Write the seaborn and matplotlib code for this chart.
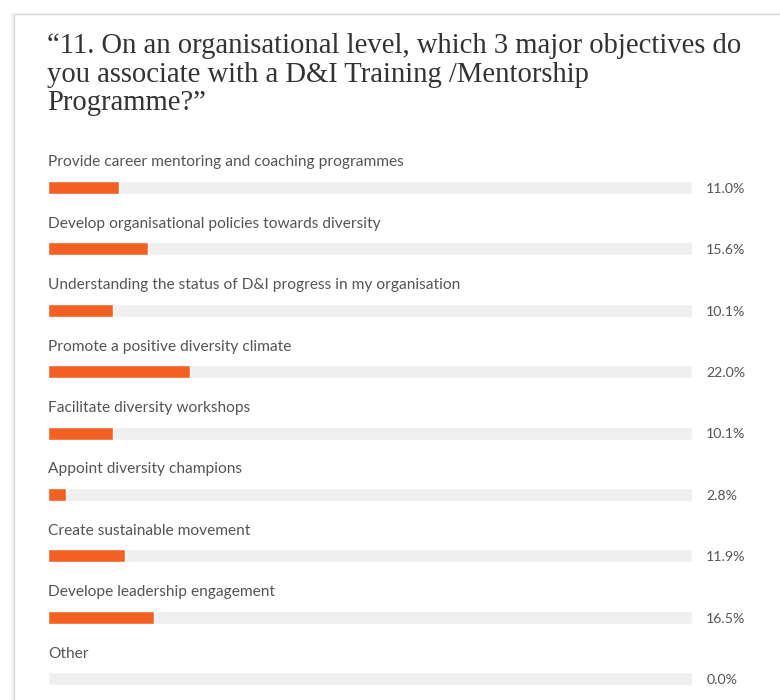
import matplotlib
matplotlib.use("Agg")
import matplotlib.pyplot as plt
import seaborn as sns
import pandas as pd
from matplotlib.patches import Rectangle

# Data
categories = [
    "Provide career mentoring and coaching programmes",
    "Develop organisational policies towards diversity",
    "Understanding the status of D&I progress in my organisation",
    "Promote a positive diversity climate",
    "Facilitate diversity workshops",
    "Appoint diversity champions",
    "Create sustainable movement",
    "Develope leadership engagement",
    "Other",
]
percent = [11.0, 15.6, 10.1, 22.0, 10.1, 2.8, 11.9, 16.5, 0.0]
track = [100] * len(categories)

title = ("\u201c11. On an organisational level, which 3 major objectives do\n"
         "you associate with a D&I Training /Mentorship\n"
         "Programme?\u201d")

df = pd.DataFrame({"option": categories, "pct": percent, "track": track})

sns.set_theme(style="white")
plt.rcParams["font.family"] = ["Lato", "DejaVu Sans"]

W, H = 780, 700
fig = plt.figure(figsize=(W / 100, H / 100), dpi=100)
fig.patch.set_facecolor("white")

# card with soft shadow on the left
for i, a in enumerate([0.05, 0.08, 0.12]):
    fig.patches.append(Rectangle(((10 + i) / W, 0), 1, (H - 12 - i) / H,
                                 transform=fig.transFigure, facecolor="#bdbdbd",
                                 alpha=a, edgecolor="none", zorder=0))
fig.patches.append(Rectangle((14 / W, -0.01), 1, (H - 14) / H + 0.01,
                             transform=fig.transFigure, facecolor="white",
                             edgecolor="#d9d9d9", linewidth=1.0, zorder=1))

fig.text(47 / W, 1 - 33 / H, title, ha="left", va="top", fontsize=20.6,
         family=["Liberation Serif"], color="#333333", linespacing=1.13,
         zorder=5)

# bar area
row = 61.4
top_px, bot_px = 140, 700
ax = fig.add_axes([48 / W, 1 - bot_px / H, 644 / W, (bot_px - top_px) / H])
ax.set_zorder(3)
ax.patch.set_alpha(0)

sns.barplot(data=df, x="track", y="option", color="#efefef", width=0.21,
            saturation=1, ax=ax, zorder=2)
sns.barplot(data=df, x="pct", y="option", color="#f26122", width=0.21,
            saturation=1, ax=ax, zorder=3)

ax.set_xlim(0, 100)
ax.set_ylim((bot_px - 187.5) / row, (top_px - 187.5) / row)
ax.axis("off")

for i, (lab, v) in enumerate(zip(categories, percent)):
    ax.text(0, i - 0.41, lab, ha="left", va="center", fontsize=11.2,
            color="#555555")
    ax.text(102.2, i + 0.02, f"{v:.1f}%", ha="left", va="center",
            fontsize=10.2, color="#555555", clip_on=False)

fig.savefig("out.png", dpi=100, facecolor="white")
